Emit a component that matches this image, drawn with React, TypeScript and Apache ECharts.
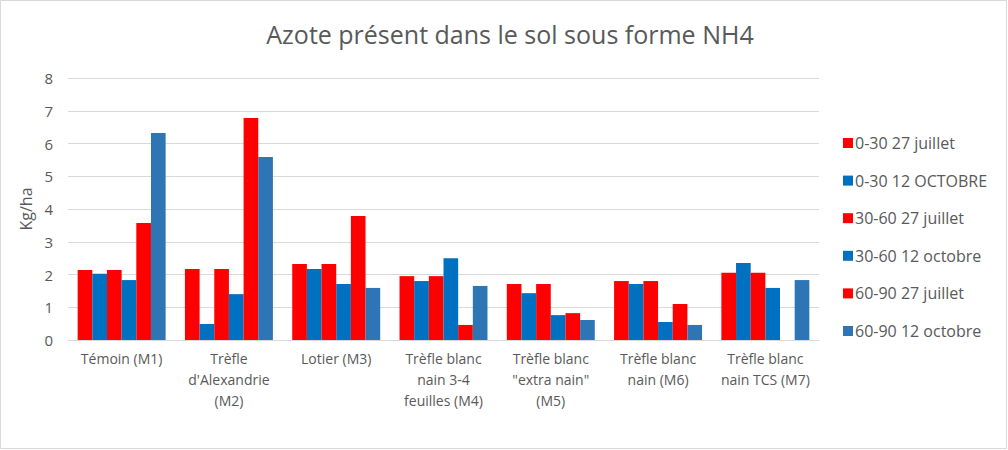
import React, { useEffect, useRef } from "react";
import * as echarts from "echarts";

// Catégories (modalités) sur l'axe horizontal
const categories = [
  "Témoin (M1)",
  "Trèfle\nd'Alexandrie\n(M2)",
  "Lotier (M3)",
  "Trèfle blanc\nnain 3-4\nfeuilles (M4)",
  "Trèfle blanc\n\"extra nain\"\n(M5)",
  "Trèfle blanc\nnain (M6)",
  "Trèfle blanc\nnain TCS (M7)",
];

// NH4 (kg/ha) par horizon et date de prélèvement
const s0030Juillet = [2.14, 2.17, 2.32, 1.95, 1.71, 1.8, 2.05];
const s0030Octobre = [2.02, 0.49, 2.17, 1.8, 1.43, 1.71, 2.35];
const s3060Juillet = [2.14, 2.17, 2.32, 1.95, 1.71, 1.8, 2.05];
const s3060Octobre = [1.83, 1.4, 1.71, 2.5, 0.76, 0.55, 1.59];
const s6090Juillet = [3.57, 6.78, 3.79, 0.46, 0.82, 1.1, null];
const s6090Octobre = [6.32, 5.59, 1.59, 1.65, 0.61, 0.46, 1.83];

const seriesNames = [
  "0-30 27 juillet",
  "0-30 12 OCTOBRE",
  "30-60 27 juillet",
  "30-60 12 octobre",
  "60-90 27 juillet",
  "60-90 12 octobre",
];

const yTicks = [0, 1, 2, 3, 4, 5, 6, 7, 8];

const RED = "#FF0000";
const BLUE = "#0070C0";
const BLUE2 = "#2E75B6";
const TEXT = "#595959";
const GRID = "#D9D9D9";
const FONT = "'Open Sans', 'Noto Sans', sans-serif";

export default function App() {
  const ref = useRef<HTMLDivElement>(null);

  useEffect(() => {
    if (!ref.current) return;
    const chart = echarts.init(ref.current, undefined, { renderer: "svg" });
    const values = [s0030Juillet, s0030Octobre, s3060Juillet, s3060Octobre, s6090Juillet, s6090Octobre];
    const colors = [RED, BLUE, RED, BLUE, RED, BLUE2];

    chart.setOption({
      animation: false,
      backgroundColor: "#ffffff",
      title: {
        text: "Azote présent dans le sol sous forme NH4",
        left: 505,
        textAlign: "center",
        top: 16,
        textStyle: { color: TEXT, fontSize: 25, fontWeight: "normal", fontFamily: FONT },
      },
      graphic: [
        {
          type: "rect",
          shape: { x: 0.5, y: 0.5, width: 1006, height: 448 },
          style: { fill: "none", stroke: GRID, lineWidth: 1 },
          silent: true,
        },
      ],
      legend: {
        orient: "vertical",
        left: 838,
        top: 130,
        itemWidth: 10,
        itemHeight: 10,
        itemGap: 21.6,
        icon: "rect",
        data: seriesNames,
        textStyle: { color: TEXT, fontSize: 16, fontFamily: FONT, padding: [0, 0, 0, -3] },
      },
      grid: { left: 68, right: 189, top: 78, bottom: 110, containLabel: false },
      xAxis: {
        type: "category",
        data: categories,
        axisLine: { lineStyle: { color: GRID, width: 1 } },
        axisTick: { show: false },
        axisLabel: {
          color: TEXT,
          fontSize: 14,
          fontFamily: FONT,
          lineHeight: 21,
          interval: 0,
          margin: 8,
          align: "center",
        },
      },
      yAxis: {
        type: "value",
        min: yTicks[0],
        max: yTicks[yTicks.length - 1],
        interval: 1,
        name: "Kg/ha",
        nameLocation: "middle",
        nameGap: 34,
        nameRotate: 90,
        nameTextStyle: { color: TEXT, fontSize: 16, fontFamily: FONT },
        axisLine: { show: false },
        axisTick: { show: false },
        splitLine: { lineStyle: { color: GRID, width: 1 } },
        axisLabel: { color: TEXT, fontSize: 15, fontFamily: FONT, margin: 15 },
      },
      series: seriesNames.map((name, i) => ({
        name,
        type: "bar",
        data: values[i],
        itemStyle: { color: colors[i] },
        barGap: "0%",
        barCategoryGap: "18%",
      })),
    });

    return () => chart.dispose();
  }, []);

  return (
    <div
      ref={ref}
      style={{ position: "absolute", left: 0, top: 0, width: 1008, height: 450 }}
    />
  );
}
